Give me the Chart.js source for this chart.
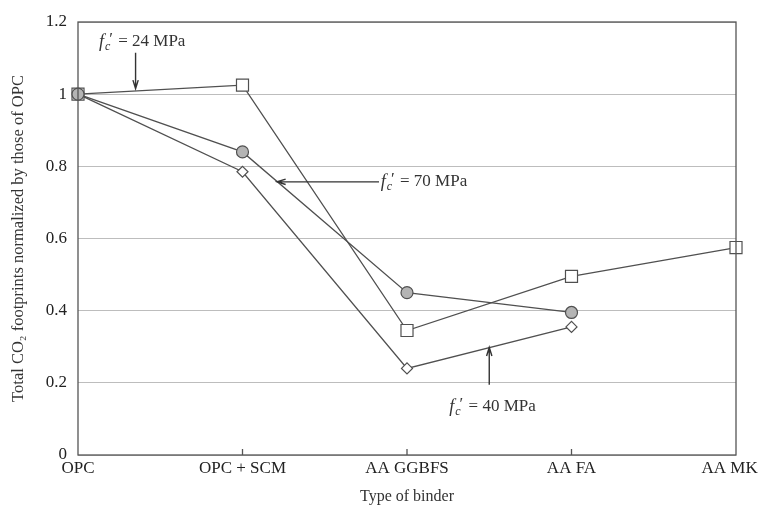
<!DOCTYPE html>
<html>
<head>
<meta charset="utf-8">
<script src="https://cdn.jsdelivr.net/npm/chart.js@4"></script>
<style>
  body { margin: 0; background: #fff; }
</style>
</head>
<body>
<canvas id="myChart" width="759" height="506"></canvas>
<script>
// binder types on the x axis
const categories = ['OPC', 'OPC + SCM', 'AA GGBFS', 'AA FA', 'AA MK'];

// normalized CO2 footprints, one array per strength grade
const mpa24 = [1, 1.025, 0.345, 0.495, 0.575];
const mpa70 = [1, 0.84, 0.45, 0.395, null];
const mpa40 = [1, 0.785, 0.24, 0.355, null];

// callouts: text anchor (x index, y value) and arrow from/to
const callouts = [
  { strength: '24', tx: 0.39, ty: 1.145, align: 'center', ax1: 0.35, ay1: 1.115, ax2: 0.35, ay2: 1.015 },
  { strength: '70', tx: 1.84, ty: 0.757, align: 'left', ax1: 1.83, ay1: 0.757, ax2: 1.21, ay2: 0.757 },
  { strength: '40', tx: 2.52, ty: 0.133, align: 'center', ax1: 2.5, ay1: 0.195, ax2: 2.5, ay2: 0.298 },
];

const lineColor = '#505050';
const serif = '"Liberation Serif", "DejaVu Serif", serif';

function drawLabel(ctx, strength, x, y, align) {
  const rest = ' = ' + strength + ' MPa';
  ctx.save();
  ctx.fillStyle = '#333';
  ctx.textBaseline = 'middle';
  ctx.textAlign = 'left';
  ctx.font = 'italic 18px ' + serif;
  const wf = ctx.measureText('f').width;
  ctx.font = 'italic 12px ' + serif;
  const wc = ctx.measureText('c').width;
  ctx.font = '17px ' + serif;
  const wp = ctx.measureText('\u2032').width;
  const wr = ctx.measureText(rest).width;
  const total = wf + 1 + wc + wp + wr;
  let x0 = align === 'center' ? x - total / 2 : x;
  ctx.font = 'italic 18px ' + serif;
  ctx.fillText('f', x0, y);
  x0 += wf + 1;
  ctx.font = 'italic 12px ' + serif;
  ctx.fillText('c', x0, y + 5);
  x0 += wc - 1;
  ctx.font = '17px ' + serif;
  ctx.fillText('\u2032', x0, y - 2);
  x0 += wp + 1;
  ctx.fillText(rest, x0, y);
  ctx.restore();
}

function drawArrow(ctx, x1, y1, x2, y2) {
  const ang = Math.atan2(y2 - y1, x2 - x1);
  const len = 9, spread = 0.3;
  ctx.save();
  ctx.strokeStyle = '#333';
  ctx.lineWidth = 1.4;
  ctx.beginPath();
  ctx.moveTo(x1, y1);
  ctx.lineTo(x2, y2);
  ctx.moveTo(x2 - len * Math.cos(ang - spread), y2 - len * Math.sin(ang - spread));
  ctx.lineTo(x2, y2);
  ctx.lineTo(x2 - len * Math.cos(ang + spread), y2 - len * Math.sin(ang + spread));
  ctx.stroke();
  ctx.restore();
}

const extras = {
  id: 'extras',
  afterDatasetsDraw(chart) {
    const { ctx, chartArea: a, scales: { x, y } } = chart;
    // frame round the plot
    ctx.save();
    ctx.strokeStyle = '#555';
    ctx.lineWidth = 1.3;
    ctx.strokeRect(a.left, a.top, a.right - a.left, a.bottom - a.top);
    // inward tick marks on the x axis
    ctx.beginPath();
    for (let i = 1; i < categories.length - 1; i++) {
      const px = x.getPixelForValue(i);
      ctx.moveTo(px, a.bottom);
      ctx.lineTo(px, a.bottom - 6);
    }
    ctx.stroke();
    ctx.restore();
    callouts.forEach(c => {
      drawArrow(ctx, x.getPixelForValue(c.ax1), y.getPixelForValue(c.ay1),
        x.getPixelForValue(c.ax2), y.getPixelForValue(c.ay2));
      drawLabel(ctx, c.strength, x.getPixelForValue(c.tx), y.getPixelForValue(c.ty), c.align);
    });
  }
};

const ctx = document.getElementById('myChart').getContext('2d');

const myChart = new Chart(ctx, {
  type: 'line',
  data: {
    labels: categories,
    datasets: [
      {
        label: "fc' = 70 MPa",
        data: mpa70,
        borderColor: lineColor,
        backgroundColor: '#b4b4b4',
        pointStyle: 'circle',
        pointRadius: 6,
        pointBorderWidth: 1.2,
      },
      {
        label: "fc' = 24 MPa",
        data: mpa24,
        borderColor: lineColor,
        backgroundColor: '#fff',
        pointStyle: 'rect',
        pointRadius: 8.5,
        pointBorderWidth: 1.2,
      },
      {
        label: "fc' = 40 MPa",
        data: mpa40,
        borderColor: lineColor,
        backgroundColor: '#fff',
        pointStyle: 'rectRot',
        pointRadius: 5.5,
        pointBorderWidth: 1.2,
      },
    ]
  },
  options: {
    responsive: false,
    animation: false,
    layout: { padding: { top: 22, right: 23, left: 0, bottom: 0 } },
    elements: { line: { borderWidth: 1.3, tension: 0 } },
    plugins: {
      legend: { display: false },
      tooltip: { enabled: false },
    },
    scales: {
      x: {
        offset: false,
        afterFit(scale) {
          scale.height = 51;
          scale.paddingLeft = 0;
          scale.paddingRight = 0;
        },
        grid: { display: false, drawTicks: false },
        border: { display: false },
        ticks: {
          color: '#222',
          padding: 3,
          maxRotation: 0,
          autoSkip: false,
          font: { family: serif, size: 17 },
          // nudge the last label left so it stays on the page
          callback: (v, i) => i === categories.length - 1 ? categories[i] + '   ' : categories[i],
        },
        title: {
          display: true,
          text: 'Type of binder',
          color: '#333',
          font: { family: serif, size: 16 },
          padding: { top: 0, bottom: 0 },
        },
      },
      y: {
        min: 0,
        max: 1.2,
        afterFit(scale) { scale.width = 78; },
        grid: { color: '#bdbdbd', lineWidth: 1, drawTicks: false },
        border: { display: false },
        ticks: {
          stepSize: 0.2,
          color: '#222',
          padding: 11,
          font: { family: serif, size: 17 },
          callback: v => String(+v.toFixed(1)),
        },
        title: {
          display: true,
          text: 'Total CO\u2082 footprints normalized by those of OPC',
          color: '#333',
          font: { family: serif, size: 16.5 },
          padding: { top: 9, bottom: 0 },
        },
      },
    },
  },
  plugins: [extras],
});
</script>
</body>
</html>
